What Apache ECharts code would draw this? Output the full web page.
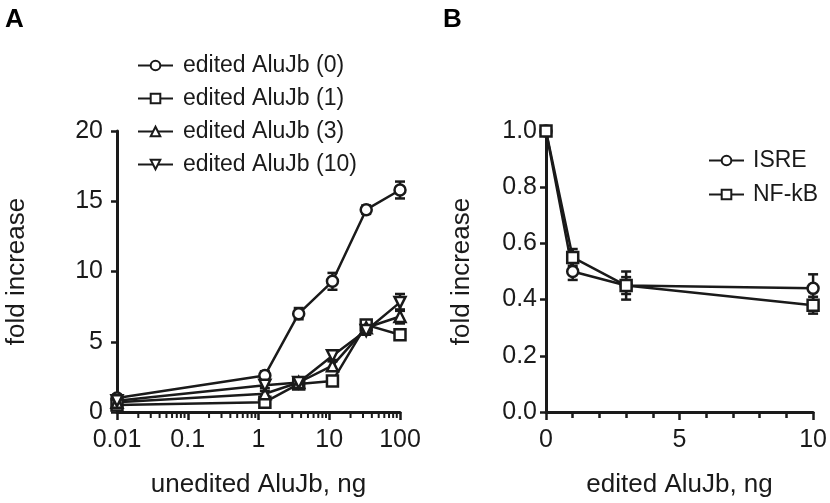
<!DOCTYPE html>
<html>
<head>
<meta charset="utf-8">
<script src="https://cdn.jsdelivr.net/npm/echarts@6/dist/echarts.min.js"></script>
<style>
html,body{margin:0;padding:0;background:#fff;}
#c{width:830px;height:503px;}
</style>
</head>
<body>
<div id="c"></div>
<script>
// ---------- Panel A data ----------
const xA = [0.01, 1.23, 3.7, 11.1, 33.3, 100];
const namesA = ['edited AluJb (0)', 'edited AluJb (1)', 'edited AluJb (3)', 'edited AluJb (10)'];
const yA0 = [1.0, 2.6, 7.0, 9.3, 14.4, 15.8];
const eA0 = [0.2, 0.3, 0.4, 0.6, 0.3, 0.6];
const yA1 = [0.5, 0.7, 2.0, 2.2, 6.2, 5.5];
const eA1 = [0.1, 0.2, 0.2, 0.3, 0.3, 0.3];
const yA3 = [0.7, 1.3, 2.1, 3.3, 6.0, 6.8];
const eA3 = [0.1, 0.2, 0.2, 0.3, 0.3, 0.5];
const yA10 = [0.8, 1.9, 2.1, 4.0, 5.8, 7.8];
const eA10 = [0.1, 0.2, 0.2, 0.3, 0.3, 0.6];
const minorA = [0.02,0.03,0.04,0.05,0.06,0.07,0.08,0.09,
                0.2,0.3,0.4,0.5,0.6,0.7,0.8,0.9,
                2,3,4,5,6,7,8,9,
                20,30,40,50,60,70,80,90];

// ---------- Panel B data ----------
const xB = [0, 1, 3, 10];
const namesB = ['ISRE', 'NF-kB'];
const yIsre = [1.0, 0.50, 0.45, 0.44];
const eIsre = [0.01, 0.03, 0.05, 0.05];
const yNfkb = [1.0, 0.55, 0.45, 0.38];
const eNfkb = [0.01, 0.03, 0.03, 0.03];

const INK = '#1a1a1a';
const FONT = 'Liberation Sans';

function pts(xs, ys){ return xs.map((x,i)=>[x, ys[i]]); }
function errPts(xs, ys, es){ return xs.map((x,i)=>[x, ys[i], es[i]]); }

function errorSeries(xi, yi, data){
  return {
    type: 'custom', xAxisIndex: xi, yAxisIndex: yi, silent: true, z: 1,
    data: data,
    renderItem: function(params, api){
      const x = api.value(0), y = api.value(1), e = api.value(2);
      const top = api.coord([x, y + e]);
      const bot = api.coord([x, y - e]);
      const cw = 5;
      const style = {stroke: INK, lineWidth: 2.5};
      return {type:'group', children:[
        {type:'line', shape:{x1:top[0], y1:top[1], x2:bot[0], y2:bot[1]}, style: style},
        {type:'line', shape:{x1:top[0]-cw, y1:top[1], x2:top[0]+cw, y2:top[1]}, style: style},
        {type:'line', shape:{x1:bot[0]-cw, y1:bot[1], x2:bot[0]+cw, y2:bot[1]}, style: style}
      ]};
    }
  };
}

function lineSeries(name, xi, yi, data, symbol, rot){
  return {
    name: name, type: 'line', xAxisIndex: xi, yAxisIndex: yi,
    data: data, symbol: symbol, symbolSize: 11, symbolRotate: rot || 0,
    showAllSymbol: true, z: 3,
    lineStyle: {color: INK, width: 2.5},
    itemStyle: {color: '#fff', borderColor: INK, borderWidth: 2.5},
    emphasis: {disabled: true}, animation: false
  };
}

const chart = echarts.init(document.getElementById('c'));
const axisText = {color: INK, fontFamily: FONT, fontSize: 25};
const nameText = {color: INK, fontFamily: FONT, fontSize: 26};
const option = {
  animation: false,
  backgroundColor: '#fff',
  title: [
    {text: 'A', left: 0, top: 2, textStyle: {fontFamily: FONT, fontWeight: 'bold', fontSize: 26, color: '#000'}},
    {text: 'B', left: 438, top: 2, textStyle: {fontFamily: FONT, fontWeight: 'bold', fontSize: 26, color: '#000'}}
  ],
  legend: [
    {
      data: namesA, left: 132, top: 49, orient: 'vertical',
      itemWidth: 35, itemHeight: 12, itemGap: 10,
      textStyle: {fontFamily: FONT, fontSize: 23, color: INK, padding: [0,0,0,5]},
      selectedMode: false
    },
    {
      data: namesB, left: 703, top: 144, orient: 'vertical',
      itemWidth: 35, itemHeight: 12, itemGap: 11,
      textStyle: {fontFamily: FONT, fontSize: 23, color: INK, padding: [0,0,0,4]},
      selectedMode: false
    }
  ],
  grid: [
    {left: 117, right: 430, top: 131, bottom: 88},
    {left: 546, right: 13, top: 131, bottom: 88}
  ],
  xAxis: [
    {
      gridIndex: 0, type: 'log', logBase: 10, min: 0.01, max: 100,
      name: 'unedited AluJb, ng', nameLocation: 'middle', nameGap: 60,
      nameTextStyle: nameText,
      axisLine: {lineStyle: {color: INK, width: 3}},
      axisTick: {length: 8, lineStyle: {color: INK, width: 2.5}},
      axisLabel: Object.assign({margin: 16, formatter: v => String(v)}, axisText),
      splitLine: {show: false}
    },
    {
      gridIndex: 1, type: 'value', min: 0, max: 10, interval: 5,
      name: 'edited AluJb, ng', nameLocation: 'middle', nameGap: 60,
      nameTextStyle: nameText,
      axisLine: {onZero: false, lineStyle: {color: INK, width: 3}},
      axisTick: {length: 8, lineStyle: {color: INK, width: 2.5}},
      minorTick: {show: true, splitNumber: 5, length: 6, lineStyle: {color: INK, width: 2.5}},
      axisLabel: Object.assign({margin: 16}, axisText),
      splitLine: {show: false}, minorSplitLine: {show: false}
    }
  ],
  yAxis: [
    {
      gridIndex: 0, type: 'value', min: 0, max: 20, interval: 5,
      name: 'fold increase', nameLocation: 'middle', nameGap: 87, nameRotate: 90,
      nameTextStyle: nameText,
      axisLine: {show: true, lineStyle: {color: INK, width: 3}},
      axisTick: {show: true, length: 6, lineStyle: {color: INK, width: 2.5}},
      axisLabel: Object.assign({margin: 14}, axisText),
      splitLine: {show: false}
    },
    {
      gridIndex: 1, type: 'value', min: 0, max: 1, interval: 0.2,
      name: 'fold increase', nameLocation: 'middle', nameGap: 71, nameRotate: 90,
      nameTextStyle: nameText,
      axisLine: {show: true, lineStyle: {color: INK, width: 3}},
      axisTick: {show: true, length: 6, lineStyle: {color: INK, width: 2.5}},
      axisLabel: Object.assign({margin: 9, formatter: v => v.toFixed(1)}, axisText),
      splitLine: {show: false}
    }
  ],
  series: [
    // minor ticks for the log axis
    {
      type: 'custom', xAxisIndex: 0, yAxisIndex: 0, silent: true, clip: false,
      data: minorA.map(v => [v, 0]),
      renderItem: function(params, api){
        const p = api.coord([api.value(0), 0]);
        return {type:'line', shape:{x1:p[0], y1:p[1], x2:p[0], y2:p[1]+6}, style:{stroke: INK, lineWidth: 2}};
      }
    },
    errorSeries(0, 0, errPts(xA, yA0, eA0)),
    errorSeries(0, 0, errPts(xA, yA1, eA1)),
    errorSeries(0, 0, errPts(xA, yA3, eA3)),
    errorSeries(0, 0, errPts(xA, yA10, eA10)),
    lineSeries(namesA[0], 0, 0, pts(xA, yA0), 'circle'),
    lineSeries(namesA[1], 0, 0, pts(xA, yA1), 'rect'),
    lineSeries(namesA[2], 0, 0, pts(xA, yA3), 'triangle'),
    lineSeries(namesA[3], 0, 0, pts(xA, yA10), 'triangle', 180),
    errorSeries(1, 1, errPts(xB, yIsre, eIsre)),
    errorSeries(1, 1, errPts(xB, yNfkb, eNfkb)),
    lineSeries(namesB[0], 1, 1, pts(xB, yIsre), 'circle'),
    lineSeries(namesB[1], 1, 1, pts(xB, yNfkb), 'rect')
  ]
};
chart.setOption(option);
</script>
</body>
</html>
